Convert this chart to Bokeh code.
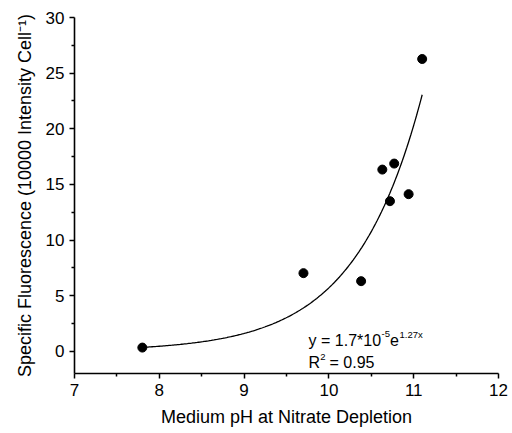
import numpy as np
from bokeh.plotting import figure
from bokeh.models import Label, Range1d, FixedTicker
from bokeh.embed import file_html
from bokeh.resources import INLINE

# data
ph = [7.80, 9.70, 10.38, 10.63, 10.72, 10.77, 10.94, 11.10]
fluor = [0.33, 7.02, 6.30, 16.33, 13.49, 16.87, 14.12, 26.27]
x_ticks = [7, 8, 9, 10, 11, 12]
y_ticks = [0, 5, 10, 15, 20, 25, 30]
# exponential fit shown in the chart: y = 1.7e-5 * exp(1.27 x)
fit_a = 1.74e-5
fit_b = 1.27
fit_x = np.linspace(min(ph), max(ph), 200)
fit_y = fit_a * np.exp(fit_b * fit_x)

FONT = "Liberation Sans"

p = figure(width=512, height=433, output_backend="svg", toolbar_location=None,
           x_range=Range1d(7, 12), y_range=Range1d(-2, 30),
           min_border_left=74, min_border_right=14, min_border_top=17, min_border_bottom=60)
p.outline_line_color = None
p.xgrid.visible = False
p.ygrid.visible = False
p.background_fill_color = "white"
p.border_fill_color = "white"

for ax in (p.xaxis[0], p.yaxis[0]):
    ax.axis_line_color = "black"
    ax.axis_line_width = 1.6
    ax.major_tick_line_color = "black"
    ax.major_tick_line_width = 1.5
    ax.minor_tick_line_color = "black"
    ax.minor_tick_line_width = 1.5
    ax.major_tick_out = 5
    ax.major_tick_in = 0
    ax.minor_tick_out = 3
    ax.minor_tick_in = 0
    ax.major_label_text_font = FONT
    ax.major_label_text_font_size = "17px"
    ax.major_label_text_color = "black"
    ax.axis_label_text_font = FONT
    ax.axis_label_text_font_size = "18px"
    ax.axis_label_text_font_style = "normal"
    ax.axis_label_text_color = "black"

p.xaxis.ticker = FixedTicker(ticks=x_ticks, minor_ticks=[7.5, 8.5, 9.5, 10.5, 11.5])
p.yaxis.ticker = FixedTicker(ticks=y_ticks, minor_ticks=[2.5, 7.5, 12.5, 17.5, 22.5, 27.5])
p.xaxis.axis_label = "Medium pH at Nitrate Depletion"
p.yaxis.axis_label = "Specific Fluorescence (10000 Intensity Cell\u207b\u00b9)"
p.xaxis.major_label_standoff = 5
p.yaxis.major_label_standoff = 5
p.xaxis.axis_label_standoff = 8
p.yaxis.axis_label_standoff = 8

p.line(fit_x, fit_y, line_color="black", line_width=1.3)
p.scatter(ph, fluor, size=9, color="black")

def lab(text, dx, y, size, dy=0):
    p.add_layout(Label(x=9.76, y=y, x_offset=dx, y_offset=dy, text=text,
                       text_font=FONT, text_font_size=size, text_color="black",
                       text_baseline="alphabetic"))

lab("y = 1.7*10", 0, 0.98, "16px")
lab("-5", 73, 0.98, "9.5px", 6)
lab("e", 81.5, 0.98, "16px")
lab("1.27x", 91, 0.98, "9.5px", 6)
lab("R", 0, -1.04, "16px")
lab("2", 11.8, -1.04, "9.5px", 6)
lab("= 0.95", 21, -1.04, "16px")

open("out.html", "w").write(file_html(p, INLINE))
